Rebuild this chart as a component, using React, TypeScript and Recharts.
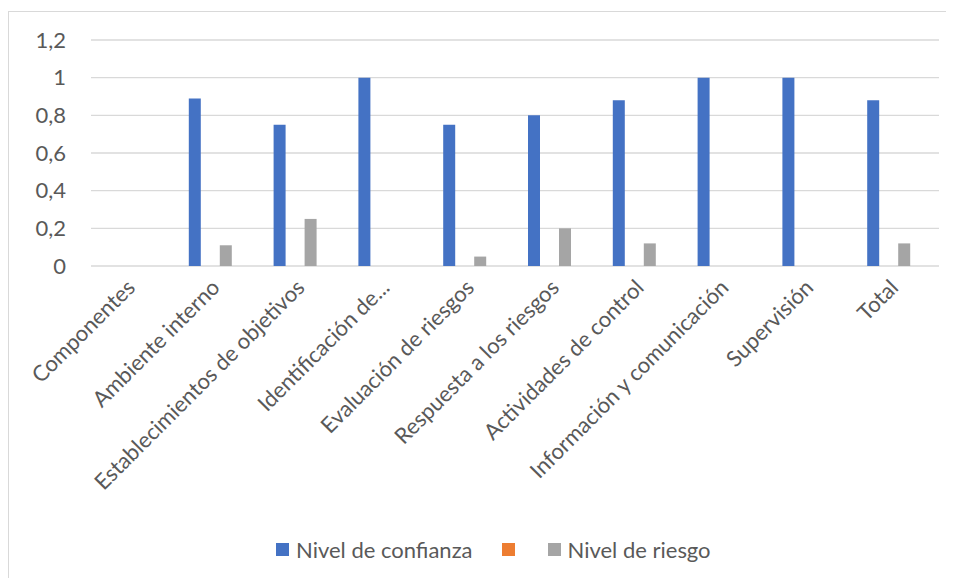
import React from 'react';
import { BarChart, Bar, XAxis, YAxis, CartesianGrid, Legend } from 'recharts';

const categories = [
  'Componentes',
  'Ambiente interno',
  'Establecimientos de objetivos',
  'Identificación de...',
  'Evaluación de riesgos',
  'Respuesta a los riesgos',
  'Actividades de control',
  'Información y comunicación',
  'Supervisión',
  'Total',
];
const nivelConfianza = [null, 0.89, 0.75, 1, 0.75, 0.8, 0.88, 1, 1, 0.88];
const serieSinNombre = [null, null, null, null, null, null, null, null, null, null];
const nivelRiesgo = [null, 0.11, 0.25, null, 0.05, 0.2, 0.12, null, null, 0.12];
const serieVacia = [null, null, null, null, null, null, null, null, null, null];
const yTicks = [0, 0.2, 0.4, 0.6, 0.8, 1, 1.2];

const legendItems = [
  { name: 'Nivel de confianza', color: '#4472C4' },
  { name: '', color: '#ED7D31' },
  { name: 'Nivel de riesgo', color: '#A5A5A5' },
];

const data = categories.map((c, i) => ({
  name: c,
  confianza: nivelConfianza[i],
  s2: serieSinNombre[i],
  riesgo: nivelRiesgo[i],
  s4: serieVacia[i],
}));

const FONT = 'Lato, "Open Sans", sans-serif';
const TEXT = '#595959';

const XTick = (props: any) => {
  const { x, y, payload } = props;
  return (
    <g transform={`translate(${x + 3},${y + 3})`}>
      <text
        x={0}
        y={0}
        textAnchor="end"
        transform="rotate(-45)"
        fill={TEXT}
        fontSize={22}
        fontFamily={FONT}
      >
        {payload.value}
      </text>
    </g>
  );
};

const LegendContent = () => (
  <div style={{ display: 'flex', alignItems: 'center', fontFamily: FONT, fontSize: 22, color: TEXT, height: 26 }}>
    {legendItems.map((it, i) => (
      <div key={i} style={{ display: 'flex', alignItems: 'center', marginRight: i === 1 ? 33 : 29 }}>
        <div style={{ width: 13, height: 13, background: it.color, marginRight: it.name ? 7 : 0 }} />
        {it.name ? <span>{it.name}</span> : null}
      </div>
    ))}
  </div>
);

export default function App() {
  return (
    <div style={{ position: 'relative', width: 946, height: 570 }}>
      <div
        style={{
          position: 'absolute',
          left: 0,
          top: 3,
          width: 946,
          height: 567,
          borderLeft: '1px solid #D9D9D9',
          borderTop: '1px solid #D9D9D9',
          boxSizing: 'border-box',
        }}
      />
      <div style={{ position: 'absolute', left: 0, top: 3 }}>
        <BarChart
          width={946}
          height={567}
          data={data}
          margin={{ top: 29, right: 15, left: 23, bottom: 6 }}
          barSize={12}
          barGap={3.5}
        >
          <CartesianGrid vertical={false} stroke="#D9D9D9" strokeWidth={1.3} />
          <XAxis
            dataKey="name"
            interval={0}
            axisLine={false}
            tickLine={false}
            height={280}
            tick={<XTick />}
            tickMargin={14}
          />
          <YAxis
            width={60}
            domain={[0, 1.2]}
            ticks={yTicks}
            axisLine={false}
            tickLine={false}
            tickMargin={19}
            tickFormatter={(v: number) => String(v).replace('.', ',')}
            tick={{ fill: TEXT, fontSize: 22, fontFamily: FONT }}
          />
          <Legend
            content={<LegendContent />}
            wrapperStyle={{ position: 'absolute', left: 268, top: 525, width: 500 }}
          />
          <Bar dataKey="confianza" name="Nivel de confianza" fill="#4472C4" isAnimationActive={false} />
          <Bar dataKey="s2" name=" " fill="#ED7D31" isAnimationActive={false} />
          <Bar dataKey="riesgo" name="Nivel de riesgo" fill="#A5A5A5" isAnimationActive={false} />
          <Bar dataKey="s4" name="  " fill="#FFC000" legendType="none" isAnimationActive={false} />
        </BarChart>
      </div>
    </div>
  );
}
